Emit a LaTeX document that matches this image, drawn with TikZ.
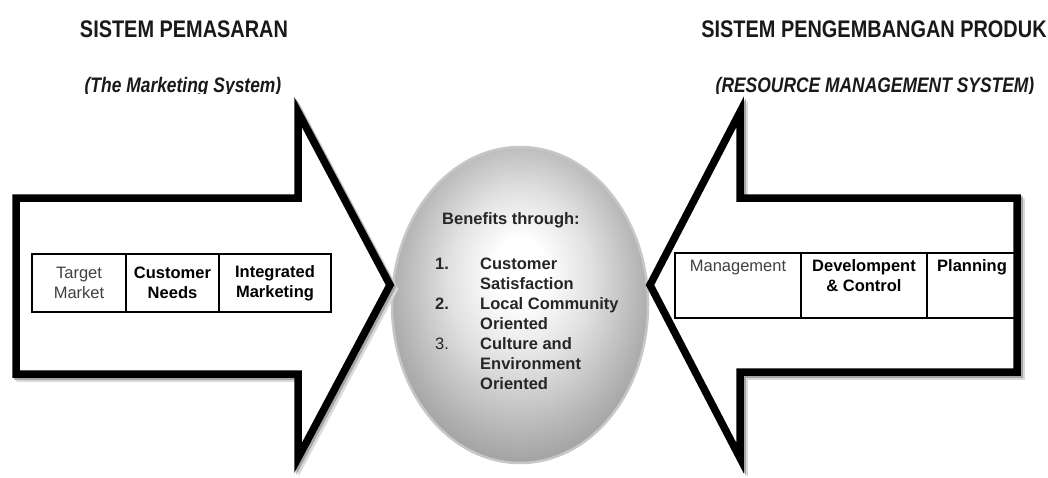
\documentclass[tikz,border=0pt]{standalone}
\usepackage{fontspec}
\setmainfont{Liberation Sans}
\newfontfamily\titlefont[FakeStretch=0.83]{Liberation Sans}
\usetikzlibrary{positioning}
\usetikzlibrary{calc}
\usetikzlibrary{shapes.geometric}

\pgfdeclareradialshading{manfaat}{\pgfpoint{0bp}{6bp}}{color(0bp)=(white); color(5bp)=(white); color(14bp)=(black!12); color(24bp)=(black!30); color(31bp)=(black!42); color(35bp)=(black!48); color(50bp)=(black!48)}

\newcommand{\isisel}[1]{\begin{tabular}[t]{@{}c@{}}#1\end{tabular}}

\begin{document}
\begin{tikzpicture}[x=1pt,y=-1pt,
judul/.style={font=\titlefont\fontsize{24}{26}\selectfont\bfseries, text=black!90},
subjudul/.style={font=\titlefont\fontsize{21}{22}\selectfont\bfseries\itshape, anchor=base, inner sep=0pt, text=black!90},
panah/.style={line width=7.5pt, fill=white, line join=miter},
sel/.style={draw, line width=1.3pt, outer sep=0pt, inner sep=0pt, align=center,
  font=\fontsize{16.5}{20}\selectfont, text=black!75},
selkiri/.style={sel, minimum height=58pt},
selkanan/.style={sel, inner ysep=6pt, text height=12pt, text depth=41pt},
tebal/.style={font=\fontsize{16.5}{20}\selectfont\bfseries, text=black},
daftar/.style={font=\fontsize{16.5}{20}\selectfont\bfseries, inner sep=0pt, text=black!85}
]

\useasboundingbox (0,0) rectangle (1048,477);

% lingkaran manfaat di tengah
\node[ellipse, minimum width=256pt, minimum height=316pt, inner sep=0pt,
  shading=manfaat, draw=black!22, line width=2.5pt] (benefit) at (520,305) {};

% dua panah besar, bayangan dulu baru garis hitam
\foreach \geser/\garis in {4/black!15, 2/black!35, 0/black}{
\draw[panah, draw=\garis, shift={(\geser,\geser)}] (16,198) -- (298,198) -- (298,112) -- (390,285)
  -- (298,458) -- (298,374) -- (16,374) -- cycle;
\draw[panah, draw=\garis, shift={(\geser,\geser)}] (1017,198) -- (740,198) -- (740,112) -- (650,285)
  -- (740,458) -- (740,372) -- (1017,372) -- cycle;
}

\node[judul] (pemasaran) at (184,29) {SISTEM PEMASARAN};
\node[judul] (produk) at (874,29) {SISTEM PENGEMBANGAN PRODUK};

\begin{scope}
\clip (40,60) rectangle (1048,93);
\node[subjudul] (marketing) at (183,92) {(The Marketing System)};
\node[subjudul] (resource) at (875,92) {(RESOURCE MANAGEMENT SYSTEM)};
\end{scope}

% tabel kiri
\node[selkiri, minimum width=94pt, anchor=west] (target) at (32,283) {Target\\Market};
\node[selkiri, tebal, minimum width=93pt, right=0pt of target] (needs) {Customer\\Needs};
\node[selkiri, tebal, minimum width=112pt, right=0pt of needs] (integrated) {Integrated\\Marketing};

% tabel kanan, teks rata atas
\node[selkanan, minimum width=126pt, anchor=north west] (management) at (675,253) {\isisel{Management}};
\node[selkanan, tebal, minimum width=126pt, right=0pt of management] (development) {\isisel{Develompent\\\& Control}};
\node[selkanan, tebal, minimum width=90pt, right=0pt of development] (planning) {\isisel{Planning}};

\node[daftar, anchor=north west] (list) at ($(benefit.center)+(-85,-95)$) {%
\begin{tabular}{@{}p{45pt}@{}l@{}}
\multicolumn{2}{@{\hspace{7pt}}l@{}}{Benefits through:}\\[25pt]
1. & Customer\\
   & Satisfaction\\
2. & Local Community\\
   & Oriented\\
{\mdseries 3.} & Culture and\\
   & Environment\\
   & Oriented
\end{tabular}};

\end{tikzpicture}
\end{document}
